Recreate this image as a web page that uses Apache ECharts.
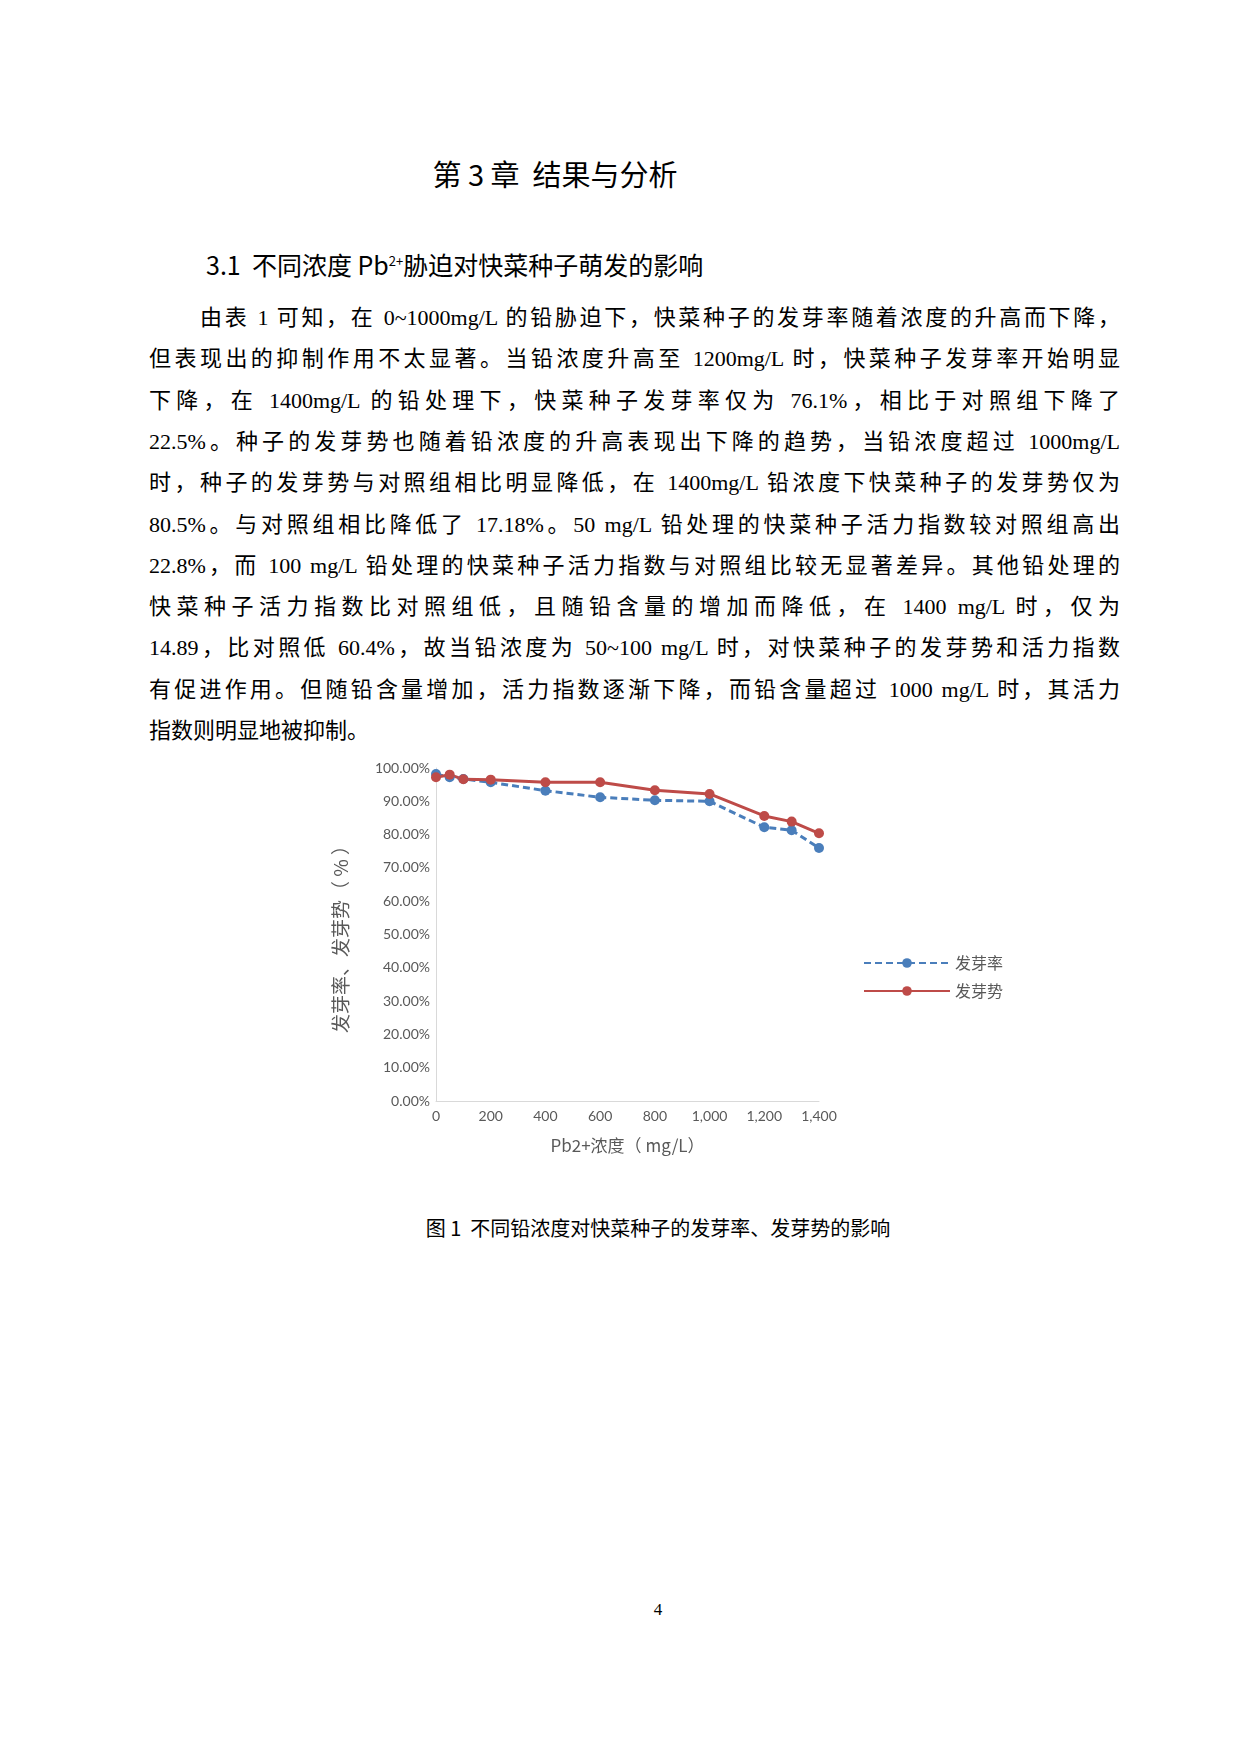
<!DOCTYPE html>
<html><head><meta charset="utf-8">
<script src="https://cdn.jsdelivr.net/npm/echarts@6/dist/echarts.min.js"></script>
<style>
body{margin:0;width:1240px;height:1754px;background:#fff;position:relative;font-family:"Liberation Serif","Noto Sans CJK SC",serif;color:#000}
.t{position:absolute;white-space:nowrap}
.ln{position:absolute;left:149px;width:971px;font-size:22px;text-align:justify;text-align-last:justify;white-space:nowrap;line-height:28px}
</style></head><body>
<div class="t" style="left:0;width:1110px;text-align:center;top:152px;font-size:29px;font-family:'Noto Sans CJK SC'">第 3 章&nbsp; 结果与分析</div>
<div class="t" style="left:206px;top:246px;font-size:25px;font-family:'Noto Sans CJK SC'">3.1&nbsp; 不同浓度 Pb<sup style="font-size:13px">2+</sup>胁迫对快菜种子萌发的影响</div>
<div id="para"></div>
<div id="c" style="position:absolute;left:300px;top:750px;width:740px;height:440px"></div>
<div class="t" style="left:0;width:1316px;text-align:center;top:1213px;font-size:20px;font-family:'Noto Sans CJK SC'">图 1&nbsp; 不同铅浓度对快菜种子的发芽率、发芽势的影响</div>
<div class="t" style="left:0;width:1316px;text-align:center;top:1600px;font-size:17px">4</div>
<script>
const lines=[
"由表 1 可知，在 0~1000mg/L 的铅胁迫下，快菜种子的发芽率随着浓度的升高而下降，",
"但表现出的抑制作用不太显著。当铅浓度升高至 1200mg/L 时，快菜种子发芽率开始明显",
"下降，在 1400mg/L 的铅处理下，快菜种子发芽率仅为 76.1%，相比于对照组下降了",
"22.5%。种子的发芽势也随着铅浓度的升高表现出下降的趋势，当铅浓度超过 1000mg/L",
"时，种子的发芽势与对照组相比明显降低，在 1400mg/L 铅浓度下快菜种子的发芽势仅为",
"80.5%。与对照组相比降低了 17.18%。50 mg/L 铅处理的快菜种子活力指数较对照组高出",
"22.8%，而 100 mg/L 铅处理的快菜种子活力指数与对照组比较无显著差异。其他铅处理的",
"快菜种子活力指数比对照组低，且随铅含量的增加而降低，在 1400 mg/L 时，仅为",
"14.89，比对照低 60.4%，故当铅浓度为 50~100 mg/L 时，对快菜种子的发芽势和活力指数",
"有促进作用。但随铅含量增加，活力指数逐渐下降，而铅含量超过 1000 mg/L 时，其活力",
"指数则明显地被抑制。"];
const p=document.getElementById('para');
lines.forEach((s,i)=>{const d=document.createElement('div');d.className='ln';d.textContent=s;d.style.top=(304+i*41.3)+'px';
if(i==0){d.style.left='200px';d.style.width='920px';}
if(i==lines.length-1){d.style.textAlignLast='left';}
p.appendChild(d);});

const xVals=[0,50,100,200,400,600,800,1000,1200,1300,1400];
const rate=[98.2,97.2,96.7,95.7,93.2,91.2,90.3,90.0,82.2,81.3,76.0];
const vigor=[97.2,98.0,96.6,96.5,95.7,95.7,93.3,92.2,85.6,83.9,80.4];
const ch=echarts.init(document.getElementById('c'));
const lab={color:'#595959',fontSize:14,fontFamily:'Lato'};
ch.setOption({
 animation:false,
 grid:{left:136,top:18,width:383,height:333},
 legend:{orient:'vertical',left:558,top:200,itemGap:12,itemWidth:86,itemHeight:12,
  textStyle:{color:'#595959',fontSize:16,fontFamily:'Noto Sans CJK SC'},data:['发芽率','发芽势']},
 xAxis:{type:'value',min:0,max:1400,interval:200,axisLine:{lineStyle:{color:'#d9d9d9'}},axisTick:{show:false},splitLine:{show:false},
  axisLabel:lab,name:'Pb2+浓度（ mg/L）',nameLocation:'middle',nameGap:36,nameTextStyle:{color:'#595959',fontSize:17,fontFamily:'Noto Sans CJK SC'}},
 yAxis:{type:'value',min:0,max:100,interval:10,axisLine:{show:true,lineStyle:{color:'#d9d9d9'}},axisTick:{show:false},splitLine:{show:false},
  axisLabel:Object.assign({formatter:v=>v.toFixed(2)+'%',margin:6},lab),
  name:'发芽率、发芽势（ % ）',nameLocation:'middle',nameGap:86,nameTextStyle:{color:'#595959',fontSize:19,fontFamily:'Noto Sans CJK SC'}},
 series:[
  {name:'发芽率',type:'line',data:xVals.map((x,i)=>[x,rate[i]]),symbol:'circle',symbolSize:10,
   lineStyle:{color:'#4a7ebb',width:3,type:[7,4]},itemStyle:{color:'#4a7ebb'}},
  {name:'发芽势',type:'line',data:xVals.map((x,i)=>[x,vigor[i]]),symbol:'circle',symbolSize:10,
   lineStyle:{color:'#be4b48',width:3},itemStyle:{color:'#be4b48'}}
 ]});
</script></body></html>
